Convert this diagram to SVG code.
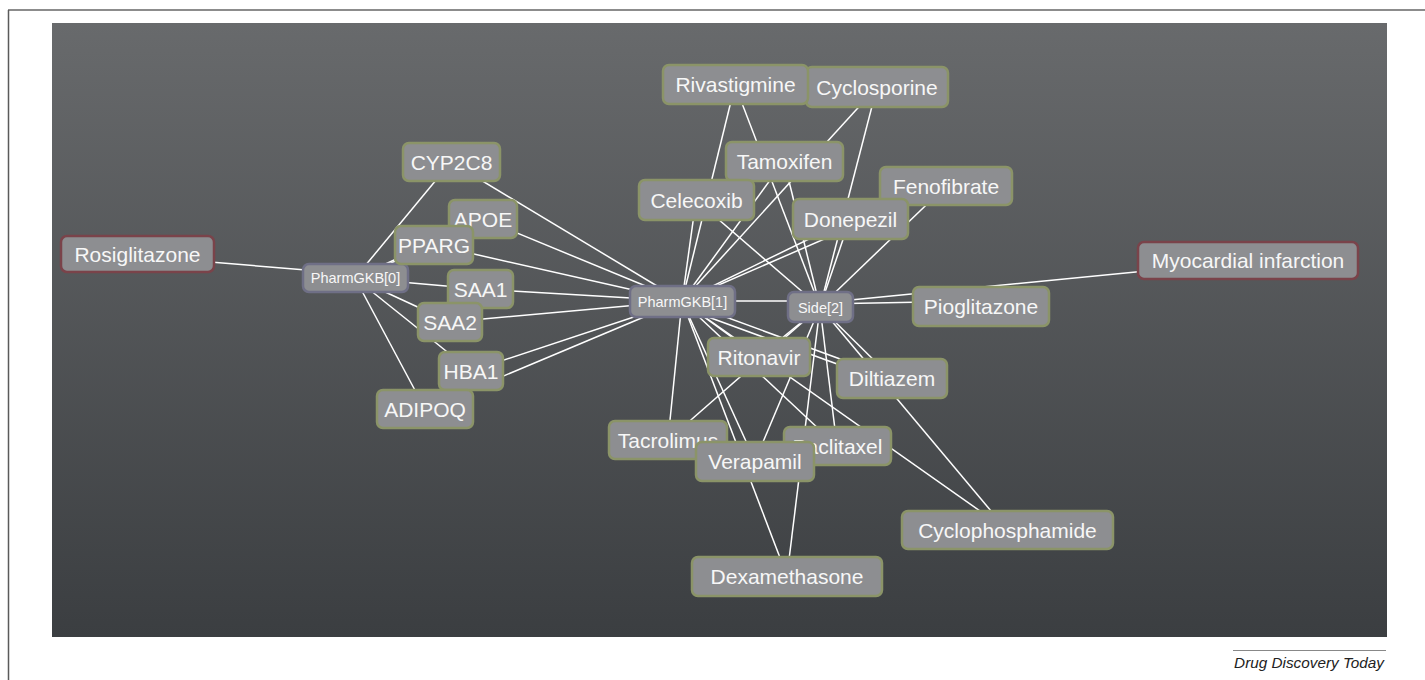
<svg xmlns="http://www.w3.org/2000/svg" width="1425" height="680" viewBox="0 0 1425 680">
<defs>
<linearGradient id="bg" x1="0" y1="0" x2="0" y2="1">
<stop offset="0" stop-color="#686a6c"/>
<stop offset="1" stop-color="#3b3e41"/>
</linearGradient>
<style>
.n rect{fill:#8d8e91;stroke:#8b9468;stroke-width:2.5}
.n text{fill:#f7f7f7;font-family:"Liberation Sans",Arial,sans-serif;font-size:21px;text-anchor:middle}
.n.r rect{stroke:#7a434a}
.n.p rect{stroke:#6f6f86}
.n.p text{font-size:14.5px}
#edges line{stroke:#ffffff;stroke-width:1.5}
</style>
</defs>
<rect width="1425" height="680" fill="#ffffff"/>
<line x1="8" y1="10" x2="1425" y2="10" stroke="#8c8c8c" stroke-width="2"/>
<line x1="8.5" y1="10" x2="8.5" y2="680" stroke="#5a5a5a" stroke-width="1.5"/>
<rect x="52" y="23" width="1335" height="614" fill="url(#bg)"/>
<line x1="1233" y1="650.5" x2="1386" y2="650.5" stroke="#888" stroke-width="1"/>
<text x="1384" y="668" font-family="'Liberation Sans',Arial,sans-serif" font-size="15.3" font-style="italic" fill="#222" text-anchor="end">Drug Discovery Today</text>

<g id="edges">
<line x1="137" y1="256" x2="355" y2="274"/>
<line x1="355" y1="278" x2="451" y2="162"/>
<line x1="355" y1="278" x2="483" y2="219"/>
<line x1="355" y1="278" x2="434" y2="245"/>
<line x1="355" y1="278" x2="480" y2="289"/>
<line x1="355" y1="278" x2="450" y2="322"/>
<line x1="355" y1="278" x2="471" y2="371"/>
<line x1="355" y1="278" x2="425" y2="409"/>
<line x1="682" y1="301" x2="451" y2="162"/>
<line x1="682" y1="301" x2="483" y2="219"/>
<line x1="682" y1="301" x2="434" y2="245"/>
<line x1="682" y1="301" x2="480" y2="289"/>
<line x1="682" y1="301" x2="450" y2="322"/>
<line x1="682" y1="301" x2="471" y2="371"/>
<line x1="682" y1="301" x2="425" y2="409"/>
<line x1="682" y1="301" x2="820" y2="301"/>
<line x1="682" y1="301" x2="735" y2="85"/>
<line x1="682" y1="301" x2="877" y2="87"/>
<line x1="682" y1="301" x2="784" y2="161"/>
<line x1="682" y1="301" x2="696" y2="200"/>
<line x1="682" y1="301" x2="850" y2="219"/>
<line x1="682" y1="301" x2="946" y2="186"/>
<line x1="682" y1="301" x2="759" y2="357"/>
<line x1="682" y1="301" x2="892" y2="378"/>
<line x1="700" y1="314" x2="892" y2="384"/>
<line x1="682" y1="301" x2="668" y2="440"/>
<line x1="682" y1="301" x2="837" y2="446"/>
<line x1="682" y1="301" x2="755" y2="461"/>
<line x1="682" y1="301" x2="787" y2="576"/>
<line x1="682" y1="301" x2="1007" y2="530"/>
<line x1="820" y1="307" x2="735" y2="85"/>
<line x1="820" y1="307" x2="877" y2="87"/>
<line x1="820" y1="307" x2="784" y2="161"/>
<line x1="820" y1="307" x2="696" y2="200"/>
<line x1="820" y1="307" x2="850" y2="219"/>
<line x1="820" y1="307" x2="946" y2="186"/>
<line x1="820" y1="307" x2="759" y2="357"/>
<line x1="820" y1="307" x2="892" y2="378"/>
<line x1="820" y1="307" x2="668" y2="440"/>
<line x1="820" y1="307" x2="837" y2="446"/>
<line x1="820" y1="307" x2="755" y2="461"/>
<line x1="820" y1="307" x2="787" y2="576"/>
<line x1="820" y1="307" x2="1007" y2="530"/>
<line x1="820" y1="304" x2="981" y2="301"/>
<line x1="820" y1="303" x2="1248" y2="261"/>
</g>

<g id="n-rosiglitazone" class="n r"><rect x="61" y="236" width="153" height="36" rx="6"/><text x="137.5" y="261.5">Rosiglitazone</text></g>
<g id="n-myocardial" class="n r"><rect x="1138" y="242" width="220" height="37" rx="6"/><text x="1248" y="268">Myocardial infarction</text></g>
<g id="n-pharmgkb0" class="n p"><rect x="303" y="264" width="105" height="28" rx="6"/><text x="355.5" y="283.3">PharmGKB[0]</text></g>
<g id="n-pharmgkb1" class="n p"><rect x="630" y="286" width="105" height="31" rx="6"/><text x="682.5" y="306.5">PharmGKB[1]</text></g>
<g id="n-side2" class="n p"><rect x="788" y="292" width="65" height="30" rx="6"/><text x="820.5" y="312.5">Side[2]</text></g>
<g id="n-cyp2c8" class="n"><rect x="403" y="143" width="97" height="38" rx="6"/><text x="451.5" y="169.5">CYP2C8</text></g>
<g id="n-apoe" class="n"><rect x="449" y="200" width="68" height="38" rx="6"/><text x="483" y="226.5">APOE</text></g>
<g id="n-pparg" class="n"><rect x="395" y="226" width="78" height="38" rx="6"/><text x="434" y="252.5">PPARG</text></g>
<g id="n-saa1" class="n"><rect x="448" y="270" width="65" height="38" rx="6"/><text x="480.5" y="296.5">SAA1</text></g>
<g id="n-saa2" class="n"><rect x="418" y="303" width="64" height="38" rx="6"/><text x="450" y="329.5">SAA2</text></g>
<g id="n-hba1" class="n"><rect x="439" y="352" width="64" height="38" rx="6"/><text x="471" y="378.5">HBA1</text></g>
<g id="n-adipoq" class="n"><rect x="377" y="390" width="96" height="38" rx="6"/><text x="425" y="416.5">ADIPOQ</text></g>
<g id="n-cyclosporine" class="n"><rect x="806" y="67" width="142" height="40" rx="6"/><text x="877" y="94.5">Cyclosporine</text></g>
<g id="n-rivastigmine" class="n"><rect x="663" y="65" width="145" height="39" rx="6"/><text x="735.5" y="92">Rivastigmine</text></g>
<g id="n-tamoxifen" class="n"><rect x="726" y="142" width="117" height="39" rx="6"/><text x="784.5" y="169">Tamoxifen</text></g>
<g id="n-celecoxib" class="n"><rect x="639" y="180" width="115" height="40" rx="6"/><text x="696.5" y="207.5">Celecoxib</text></g>
<g id="n-fenofibrate" class="n"><rect x="880" y="167" width="132" height="38" rx="6"/><text x="946" y="193.5">Fenofibrate</text></g>
<g id="n-donepezil" class="n"><rect x="793" y="199" width="115" height="40" rx="6"/><text x="850.5" y="226.5">Donepezil</text></g>
<g id="n-pioglitazone" class="n"><rect x="913" y="287" width="136" height="39" rx="6"/><text x="981" y="314">Pioglitazone</text></g>
<g id="n-ritonavir" class="n"><rect x="708" y="338" width="102" height="38" rx="6"/><text x="759" y="364.5">Ritonavir</text></g>
<g id="n-diltiazem" class="n"><rect x="837" y="359" width="110" height="39" rx="6"/><text x="892" y="386">Diltiazem</text></g>
<g id="n-tacrolimus" class="n"><rect x="609" y="421" width="118" height="38" rx="6"/><text x="668" y="447.5">Tacrolimus</text></g>
<g id="n-paclitaxel" class="n"><rect x="784" y="427" width="107" height="38" rx="6"/><text x="837.5" y="453.5">Paclitaxel</text></g>
<g id="n-verapamil" class="n"><rect x="696" y="442" width="118" height="39" rx="6"/><text x="755" y="469">Verapamil</text></g>
<g id="n-cyclophosphamide" class="n"><rect x="902" y="511" width="211" height="38" rx="6"/><text x="1007.5" y="537.5">Cyclophosphamide</text></g>
<g id="n-dexamethasone" class="n"><rect x="692" y="557" width="190" height="39" rx="6"/><text x="787" y="584">Dexamethasone</text></g>
</svg>
